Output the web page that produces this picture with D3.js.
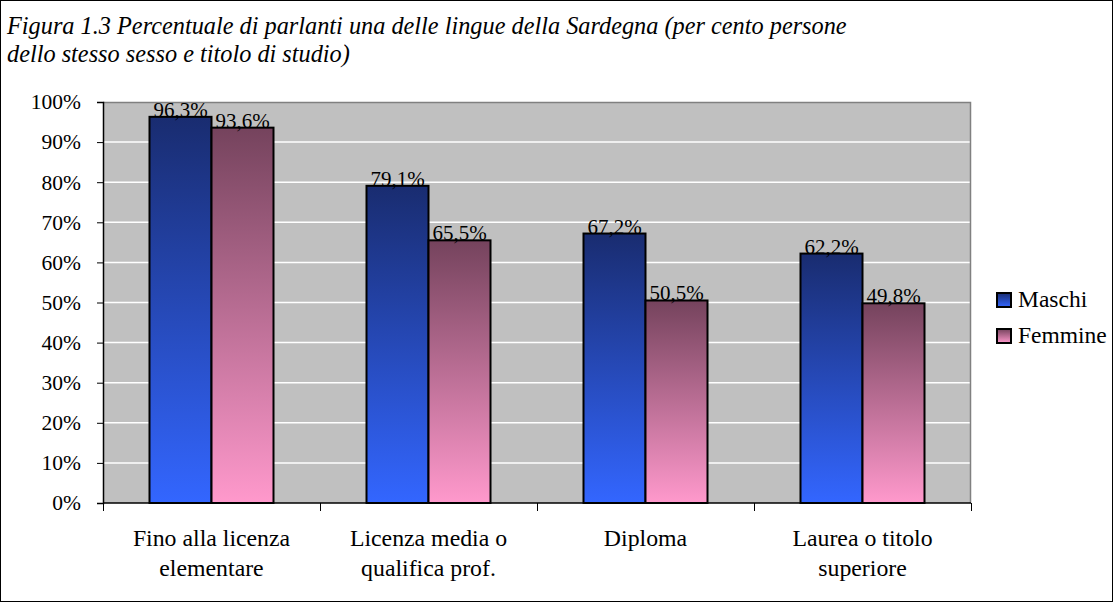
<!DOCTYPE html>
<html>
<head>
<meta charset="utf-8">
<script src="https://cdn.jsdelivr.net/npm/d3@7"></script>
<style>
  body { margin: 0; background: #fff; }
  svg text { font-family: "Liberation Serif", "Times New Roman", serif; fill: #000; }
</style>
</head>
<body>
<div class="chart"></div>
<script>
// data
const categories = [
    ["Fino alla licenza", "elementare"],
    ["Licenza media o", "qualifica prof."],
    ["Diploma"],
    ["Laurea o titolo", "superiore"]
]
const seriesNames = ["Maschi", "Femmine"]
const maschi = [96.3, 79.1, 67.2, 62.2]
const femmine = [93.6, 65.5, 50.5, 49.8]
const yTicks = [0, 10, 20, 30, 40, 50, 60, 70, 80, 90, 100]
const titleLines = [
    "Figura 1.3 Percentuale di parlanti una delle lingue della Sardegna (per cento persone",
    "dello stesso sesso e titolo di studio)"
]

const rows = categories.map((c, i) => ({ cat: i, values: [maschi[i], femmine[i]] }))

const dimensions = {
    width: 1114,
    height: 603,
    margin: { top: 102, bottom: 100, left: 103, right: 143 }
}
const innerW = dimensions.width - dimensions.margin.left - dimensions.margin.right
const innerH = dimensions.height - dimensions.margin.top - dimensions.margin.bottom

const svg = d3.select(".chart")
    .append("svg")
    .attr("width", dimensions.width)
    .attr("height", dimensions.height)

// gradients: dark at top, bright at bottom
const grads = [
    { id: "gM", top: "#192c70", bottom: "#3366ff" },
    { id: "gF", top: "#75435d", bottom: "#ff99cc" }
]
const defs = svg.append("defs")
grads.forEach(g => {
    const lg = defs.append("linearGradient")
        .attr("id", g.id)
        .attr("x1", 0).attr("y1", 0).attr("x2", 0).attr("y2", 1)
    lg.append("stop").attr("offset", "0%").attr("stop-color", g.top)
    lg.append("stop").attr("offset", "100%").attr("stop-color", g.bottom)
})

// outer frame
svg.append("rect")
    .attr("x", 0.5).attr("y", 0.5)
    .attr("width", dimensions.width - 2)
    .attr("height", dimensions.height - 2)
    .attr("fill", "none")
    .attr("stroke", "#000")

// title
svg.append("g")
    .selectAll("text")
    .data(titleLines)
    .join("text")
    .attr("x", 7)
    .attr("y", (d, i) => 34 + i * 28)
    .style("font-style", "italic")
    .style("font-size", "24.3px")
    .text(d => d)

const container = svg.append("g")
    .attr("transform", `translate(${dimensions.margin.left}, ${dimensions.margin.top})`)

const x = d3.scaleBand()
    .domain(d3.range(categories.length))
    .range([0, innerW])
    .paddingInner(0)
    .paddingOuter(0)

const xSub = d3.scaleBand()
    .domain(d3.range(seriesNames.length))
    .range([0, x.bandwidth()])
    .paddingInner(0)
    .paddingOuter(0.75)

const y = d3.scaleLinear()
    .domain([0, 100])
    .range([innerH, 0])

// plot background
container.append("rect")
    .attr("width", innerW)
    .attr("height", innerH)
    .attr("fill", "#c0c0c0")

// gridlines
container.append("g")
    .selectAll("line")
    .data(yTicks.filter(t => t > 0 && t < 100))
    .join("line")
    .attr("x1", 0).attr("x2", innerW)
    .attr("y1", d => y(d)).attr("y2", d => y(d))
    .attr("stroke", "#fff")
    .attr("stroke-width", 1.5)

// plot border top/right
container.append("path")
    .attr("d", `M0,0.5H${innerW - 0.5}V${innerH}`)
    .attr("fill", "none")
    .attr("stroke", "#808080")
    .attr("stroke-width", 1.5)

// bars
const groups = container.selectAll("g.group")
    .data(rows)
    .join("g")
    .attr("class", "group")
    .attr("transform", d => `translate(${x(d.cat)},0)`)

groups.selectAll("rect")
    .data(d => d.values.map((v, s) => ({ v, s })))
    .join("rect")
    .attr("x", d => xSub(d.s))
    .attr("y", d => y(d.v))
    .attr("width", xSub.bandwidth())
    .attr("height", d => innerH - y(d.v))
    .attr("fill", d => `url(#${grads[d.s].id})`)
    .attr("stroke", "#000")
    .attr("stroke-width", 2)

groups.selectAll("text.val")
    .data(d => d.values.map((v, s) => ({ v, s })))
    .join("text")
    .attr("class", "val")
    .attr("x", d => xSub(d.s) + xSub.bandwidth() / 2)
    .attr("y", d => y(d.v))
    .attr("text-anchor", "middle")
    .style("font-size", "21px")
    .text(d => d.v.toFixed(1).replace(".", ",") + "%")

// y axis
const yAxis = d3.axisLeft(y)
    .tickValues(yTicks)
    .tickSize(6)
    .tickPadding(16)
    .tickFormat(d => d + "%")
const yG = container.append("g").call(yAxis)
yG.select(".domain").attr("stroke", "#000").attr("stroke-width", 1.5)
yG.selectAll("text").style("font-size", "21.5px")

// x axis
const xAxis = d3.axisBottom(d3.scaleLinear().domain([0, categories.length]).range([0, innerW]))
    .tickValues(d3.range(categories.length + 1))
    .tickSize(8)
    .tickFormat("")
const xG = container.append("g")
    .attr("transform", `translate(0,${innerH})`)
    .call(xAxis)
xG.select(".domain").attr("stroke", "#000").attr("stroke-width", 1.5)
    .attr("d", `M0,0H${innerW}`)

// category labels
container.append("g")
    .selectAll("text")
    .data(categories.map((c, i) => ({ c, i })))
    .join("text")
    .attr("text-anchor", "middle")
    .attr("transform", d => `translate(${x(d.i) + x.bandwidth() / 2},${innerH + 43})`)
    .style("font-size", "23.8px")
    .selectAll("tspan")
    .data(d => d.c)
    .join("tspan")
    .attr("x", 0)
    .attr("y", (d, i) => i * 30)
    .text(d => d)

// legend
const legend = svg.append("g")
    .attr("transform", "translate(997,293)")
const items = legend.selectAll("g")
    .data(seriesNames)
    .join("g")
    .attr("transform", (d, i) => `translate(0,${i * 36})`)
items.append("rect")
    .attr("width", 14).attr("height", 14)
    .attr("fill", (d, i) => `url(#${grads[i].id})`)
    .attr("stroke", "#000")
    .attr("stroke-width", 2)
items.append("text")
    .attr("x", 21)
    .attr("y", 14)
    .style("font-size", "23.5px")
    .text(d => d)
</script>
</body>
</html>
